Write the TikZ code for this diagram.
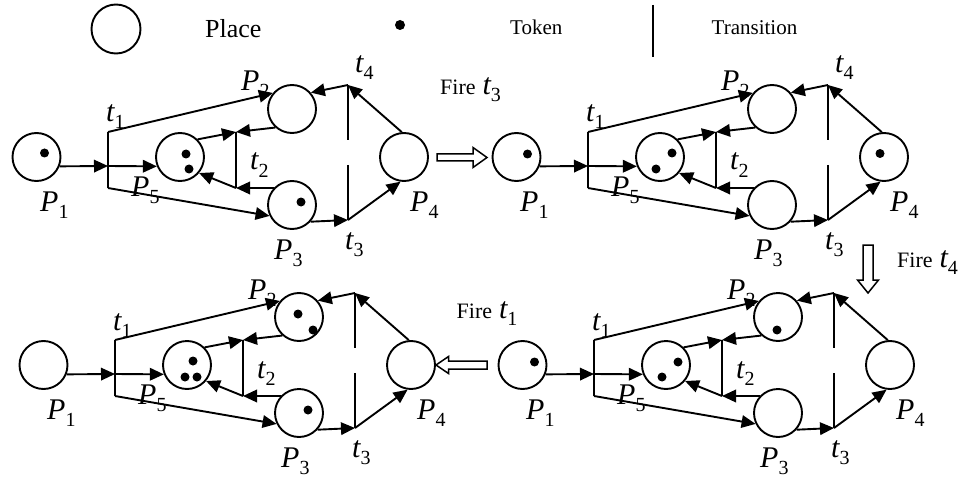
\documentclass[tikz,border=0pt]{standalone}
\usepackage{fontspec}
\setmainfont{Liberation Serif}
\usetikzlibrary{arrows.meta}
\newcommand\lbl[2]{{\fontsize{30}{30}\selectfont\itshape #1}\raisebox{-7pt}{\fontsize{20}{20}\selectfont #2}}
\newcommand\firelbl[1]{{\fontsize{22}{22}\selectfont Fire}\hspace{7pt}\lbl{t}{#1}}
\newcommand\tok[3]{\fill (#1) ++(#2,#3) circle[radius=4.5];}
\newcommand\petrinet[2]{%
\begin{scope}[shift={#2}]
 \node[place] (#1P1) at (36.5,157) {};
 \node[place] (#1P5) at (180,157) {};
 \node[place] (#1P2) at (292,109) {};
 \node[place] (#1P3) at (292,205) {};
 \node[place] (#1P4) at (404,157) {};
 \coordinate (#1t1a) at (108,132);
 \coordinate (#1t1m) at (108,166);
 \coordinate (#1t1b) at (108,188);
 \coordinate (#1t2a) at (236,132);
 \coordinate (#1t2b) at (236,188);
 \coordinate (#1t4a) at (348,85);
 \coordinate (#1t4b) at (348,140);
 \coordinate (#1t3a) at (348,165);
 \coordinate (#1t3b) at (348,220);
 \draw[bar] (#1t1a) -- (#1t1b);
 \draw[bar] (#1t2a) -- (#1t2b);
 \draw[bar] (#1t4a) -- (#1t4b);
 \draw[bar] (#1t3a) -- (#1t3b);
 \draw[arc] (#1P1.-22) -- (#1t1m);
 \draw[arc] (#1t1m) -- (#1P5.202);
 \draw[arc] (#1t1a) -- (#1P2.140);
 \draw[arc] (#1t1b) -- (#1P3.206);
 \draw[arc] (#1P5.45) -- (#1t2a);
 \draw[arc] (#1P2.228) -- (#1t2a);
 \draw[arc] (#1P3.137) -- (#1t2b);
 \draw[arc] (#1t2b) -- (#1P5.320);
 \draw[arc] (#1P3.318) -- (#1t3b);
 \draw[arc] (#1t3b) -- (#1P4.262);
 \draw[arc] (#1P4.95) -- (#1t4a);
 \draw[arc] (#1t4a) -- (#1P2.41);
 \node[lab] (#1lP1) at (40,211) {\lbl{P}{1}};
 \node[lab] (#1lt1) at (106,122) {\lbl{t}{1}};
 \node[lab] (#1lP5) at (131,196) {\lbl{P}{5}};
 \node[lab] (#1lt2) at (250,170) {\lbl{t}{2}};
 \node[lab] (#1lP2) at (241,91) {\lbl{P}{2}};
 \node[lab] (#1lP3) at (274,259) {\lbl{P}{3}};
 \node[lab] (#1lt3) at (345,249) {\lbl{t}{3}};
 \node[lab] (#1lP4) at (410,211) {\lbl{P}{4}};
\end{scope}}
\begin{document}
\begin{tikzpicture}[x=1pt,y=-1pt,
  place/.style={circle,draw,line width=1.9pt,minimum size=48pt,inner sep=0pt},
  bar/.style={line width=1.9pt},
  arc/.style={line width=1.9pt,-{Triangle[length=14pt,width=12.5pt]}},
  lab/.style={anchor=base west,inner sep=0pt},
  block/.style={draw,line width=1.5pt,fill=white,line join=miter},
  legtext/.style={anchor=base west,inner sep=0pt}]
\useasboundingbox (0,0) rectangle (965,481);
% legend
\node[place,minimum size=49pt] (lgP) at (116,29) {};
\node[legtext,font=\fontsize{26}{26}\selectfont] (lgPt) at (205,38) {Place};
\fill (400,25) circle[radius=5];
\node[legtext,font=\fontsize{21}{21}\selectfont] (lgTk) at (510,35) {Token};
\coordinate (lgTa) at (653,5);
\coordinate (lgTb) at (653,57);
\draw[bar] (lgTa) -- (lgTb);
\node[legtext,font=\fontsize{21}{21}\selectfont] (lgTr) at (711.5,35) {Transition};
% nets
\petrinet{a}{(0,0)}
\petrinet{b}{(480,0)}
\petrinet{c}{(7,208)}
\petrinet{d}{(486,208)}
\node[lab] (alt4) at (355,73) {\lbl{t}{4}};
\node[lab] (blt4) at (835,73) {\lbl{t}{4}};
% tokens
\tok{aP1}{8}{-4}
\tok{aP5}{6}{-3}\tok{aP5}{9}{12}
\tok{aP3}{9}{-3}
\tok{bP1}{11}{-3}
\tok{bP5}{12}{-4}\tok{bP5}{-4}{12}
\tok{bP4}{-4}{-3.5}
\tok{cP2}{-1}{-3}\tok{cP2}{14}{13}
\tok{cP5}{6}{-4}\tok{cP5}{-2}{12}\tok{cP5}{10}{12}
\tok{cP3}{9}{-3}
\tok{dP1}{12}{-3}
\tok{dP2}{-1}{13}
\tok{dP5}{12}{-3}\tok{dP5}{-4}{12}
% fire arrows
\draw[block] (437,154) -- (473,154) -- (473,147.5) -- (487,157.5) -- (473,167.5) -- (473,161) -- (437,161) -- cycle;
\node[lab] (f3) at (440,95) {\firelbl{3}};
\draw[block] (863,245) -- (873,245) -- (873,280) -- (878.5,280) -- (868,293) -- (857.5,280) -- (863,280) -- cycle;
\node[lab] (f4) at (897,267) {\firelbl{4}};
\draw[block] (487,361) -- (448.5,361) -- (448.5,356.5) -- (436,365) -- (448.5,373.5) -- (448.5,369) -- (487,369) -- cycle;
\node[lab] (f1) at (456.5,318) {\firelbl{1}};
\end{tikzpicture}
\end{document}
